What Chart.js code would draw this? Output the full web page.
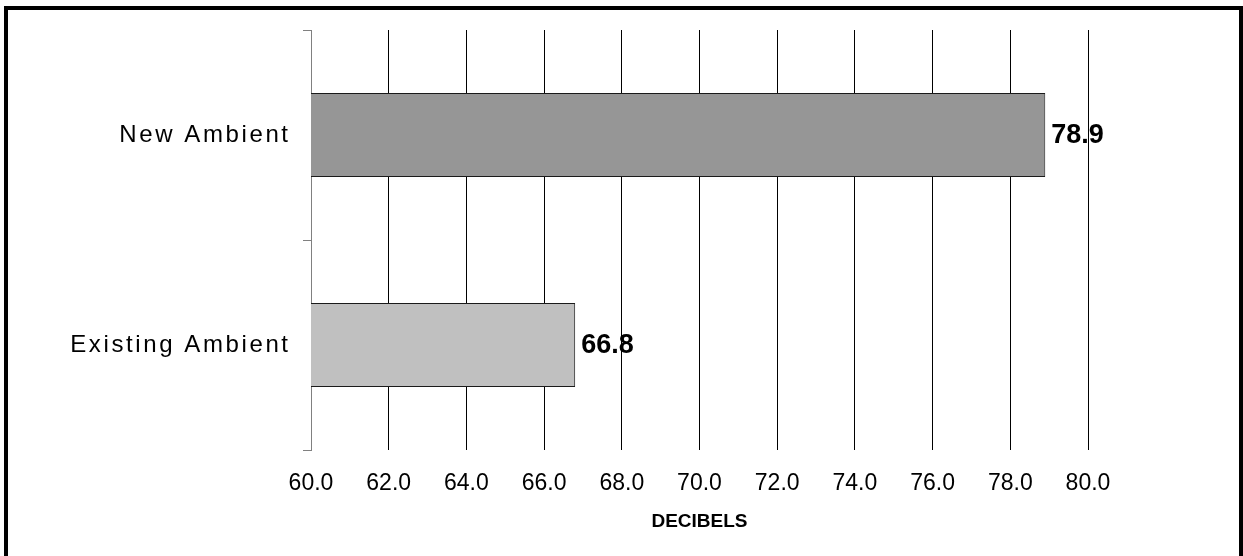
<!DOCTYPE html>
<html>
<head>
<meta charset="utf-8">
<script src="https://cdn.jsdelivr.net/npm/chart.js@4/dist/chart.umd.min.js"></script>
<style>
  html, body { margin: 0; padding: 0; background: #fff; }
  body { width: 1243px; height: 556px; position: relative; overflow: hidden; }
  #frame {
    position: absolute; left: 4px; top: 6px; width: 1239px; height: 620px;
    box-sizing: border-box; border: 4px solid #000; border-bottom: none;
  }
  #chart { position: absolute; left: 0; top: 0; }
</style>
</head>
<body>
<div id="frame"></div>
<canvas id="chart" width="1243" height="556"></canvas>
<script>
// Sound levels, decibels
const categories = ['New Ambient', 'Existing Ambient'];
const levels = [78.9, 66.8];
const barColors = ['#969696', '#c0c0c0'];
const axisMin = 60;
const axisMax = 80;
const axisStep = 2;
const axisTitle = 'DECIBELS';

const FONT = '"Liberation Sans", Arial, sans-serif';

// Category names on the left, letter-spaced, right-aligned to the axis
const categoryLabels = {
  id: 'categoryLabels',
  afterDraw(chart) {
    const ctx = chart.ctx;
    const y = chart.scales.y;
    ctx.save();
    ctx.font = '24px ' + FONT;
    if ('letterSpacing' in ctx) ctx.letterSpacing = '2.6px';
    ctx.fillStyle = '#000';
    ctx.textAlign = 'right';
    ctx.textBaseline = 'middle';
    categories.forEach((name, i) => {
      ctx.fillText(name, y.right - 20.4, y.getPixelForValue(i));
    });
    ctx.restore();
  }
};

// Value printed just past the end of each bar
const valueLabels = {
  id: 'valueLabels',
  afterDatasetsDraw(chart) {
    const ctx = chart.ctx;
    const meta = chart.getDatasetMeta(0);
    ctx.save();
    ctx.font = 'bold 27px ' + FONT;
    ctx.fillStyle = '#000';
    ctx.textAlign = 'left';
    ctx.textBaseline = 'middle';
    meta.data.forEach((bar, i) => {
      ctx.fillText(levels[i].toFixed(1), bar.x + 6, bar.y + 1);
    });
    ctx.restore();
  }
};

new Chart(document.getElementById('chart'), {
  type: 'bar',
  data: {
    labels: categories,
    datasets: [{
      data: levels,
      backgroundColor: barColors,
      borderColor: '#1a1a1a',
      borderWidth: 1,
      borderSkipped: false,
      categoryPercentage: 1,
      barPercentage: 0.4
    }]
  },
  options: {
    indexAxis: 'y',
    responsive: false,
    animation: false,
    devicePixelRatio: 1,
    layout: { padding: { left: 0, right: 155, top: 30, bottom: 0 } },
    plugins: {
      legend: { display: false },
      tooltip: { enabled: false }
    },
    scales: {
      x: {
        min: axisMin,
        max: axisMax,
        afterFit(scale) { scale.height = 106; },
        ticks: {
          stepSize: axisStep,
          padding: 20,
          color: '#000',
          font: { family: FONT, size: 23 },
          callback: v => Number(v).toFixed(1)
        },
        grid: {
          drawTicks: false,
          color: c => (c.tick && c.tick.value === axisMin) ? 'rgba(0,0,0,0)' : '#000',
          lineWidth: 1
        },
        border: { display: false },
        title: {
          display: true,
          text: axisTitle,
          color: '#000',
          font: { family: FONT, size: 19, weight: 'bold' },
          padding: { top: 0, bottom: 22.6 }
        }
      },
      y: {
        offset: true,
        afterFit(scale) { scale.width = 311; },
        ticks: { display: false },
        grid: {
          offset: true,
          drawOnChartArea: false,
          drawTicks: true,
          tickLength: 8,
          color: '#808080',
          lineWidth: 1
        },
        border: { display: true, color: '#808080', width: 1 }
      }
    }
  },
  plugins: [categoryLabels, valueLabels]
});
</script>
</body>
</html>
